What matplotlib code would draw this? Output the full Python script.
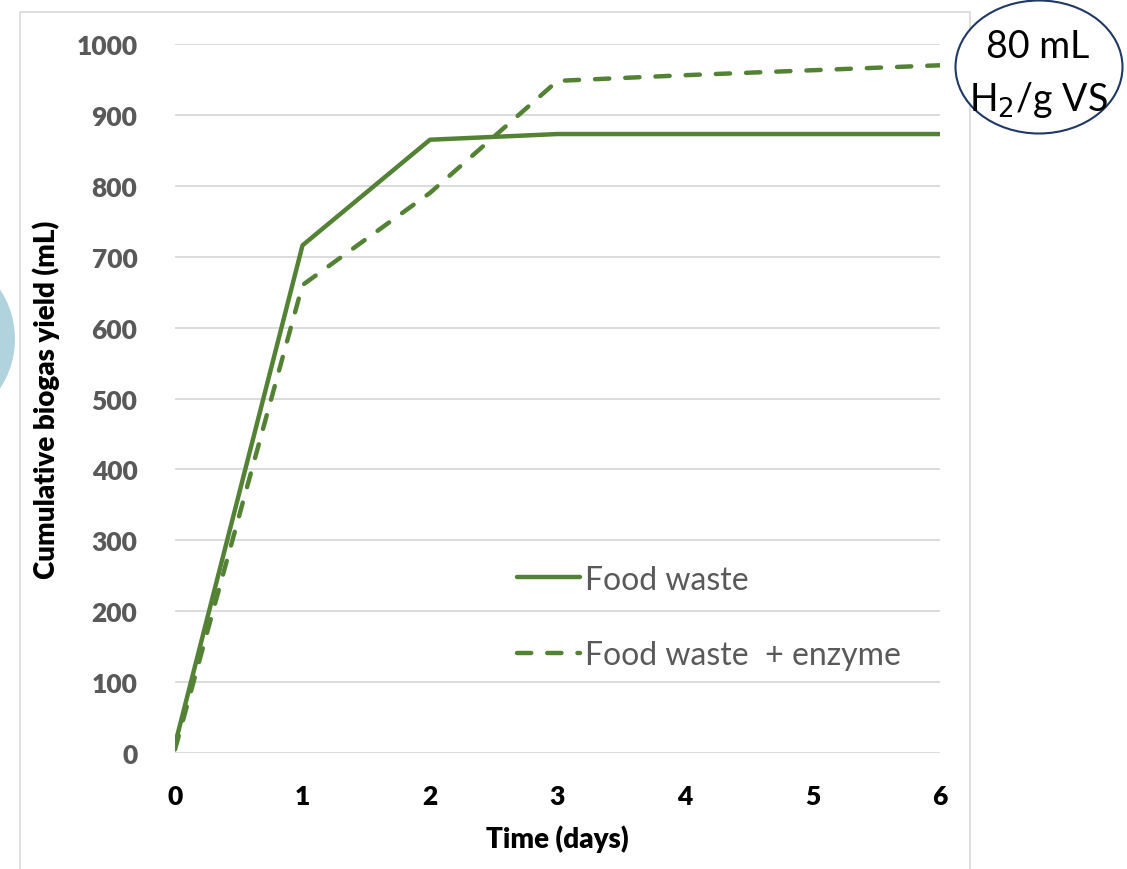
import matplotlib
matplotlib.use("Agg")
import matplotlib.pyplot as plt
from matplotlib.patches import Ellipse, Rectangle

# Cumulative biogas yield over the digestion period
days = [0, 1, 2, 3, 4, 5, 6]
food_waste = [12, 716, 865, 873, 873, 873, 873]
food_waste_enzyme = [5, 660, 790, 948, 956, 963, 970]
y_ticks = [0, 100, 200, 300, 400, 500, 600, 700, 800, 900, 1000]

green = "#548235"
grid_gray = "#D9D9D9"
label_gray = "#595959"
font = ["Lato", "DejaVu Sans"]

fig = plt.figure(figsize=(11.27, 8.7), dpi=100)

# Chart-area frame and the edge of a neighbouring graphic
fig.patches.append(Rectangle((20 / 1127, -0.05), 950 / 1127, 1.05 - 13 / 870,
                             transform=fig.transFigure, fill=False,
                             edgecolor=grid_gray, linewidth=1.2, zorder=0))
fig.patches.append(Ellipse((-65 / 1127, 1 - 340 / 870), 160 / 1127, 170 / 870,
                           transform=fig.transFigure, facecolor="#A9CFDB",
                           edgecolor="none", alpha=0.9, zorder=0))

ax = fig.add_axes([175 / 1127, 1 - 754 / 870, 765 / 1127, 709 / 870])
ax.plot(days, food_waste, color=green, linewidth=3.2, solid_capstyle="round",
        label="Food waste", zorder=3)
ax.plot(days, food_waste_enzyme, color=green, linewidth=3.2,
        linestyle=(0, (3.2, 3.6)), dash_capstyle="round",
        label="Food waste  + enzyme", zorder=3)

ax.set_xlim(0, 6)
ax.set_ylim(0, 1000)
ax.set_yticks(y_ticks)
ax.set_xticks(days)
ax.grid(axis="y", color=grid_gray, linewidth=1.3)
ax.set_axisbelow(True)
for side in ax.spines.values():
    side.set_visible(False)
ax.tick_params(length=0)
ax.tick_params(axis="y", pad=27)
ax.tick_params(axis="x", pad=22)

for lbl in ax.get_yticklabels():
    lbl.set_fontfamily(font)
    lbl.set_fontweight("heavy")
    lbl.set_fontsize(19)
    lbl.set_color(label_gray)
for lbl in ax.get_xticklabels():
    lbl.set_fontfamily(font)
    lbl.set_fontweight("heavy")
    lbl.set_fontsize(19)
    lbl.set_color("black")

ax.set_xlabel("Time (days)", fontfamily=font, fontweight="heavy", fontsize=20,
              color="black", labelpad=12)
ax.set_ylabel("Cumulative biogas yield (mL)", fontfamily=font, fontweight="heavy",
              fontsize=20, color="black", labelpad=12)

leg = ax.legend(loc="lower left", bbox_to_anchor=(0.431, 0.099), frameon=False,
                prop={"family": font, "size": 23}, handlelength=1.95,
                handletextpad=0.15, labelspacing=1.42, borderaxespad=0)
for t in leg.get_texts():
    t.set_color(label_gray)

# Hydrogen yield badge
fig.patches.append(Ellipse((1039 / 1127, 1 - 68 / 870), 167 / 1127, 133 / 870,
                           transform=fig.transFigure, facecolor="white",
                           edgecolor="#1F3864", linewidth=1.5, zorder=5))
fig.text(1038 / 1127, 1 - 47 / 870, "80 mL", ha="center", va="center",
         fontfamily=font, fontsize=27, color="black", zorder=6)
fig.text(1038 / 1127, 1 - 100 / 870, r"H$_2$/g VS", ha="center", va="center",
         fontfamily=font, fontsize=27, color="black", zorder=6)

fig.savefig("out.png", dpi=100)
